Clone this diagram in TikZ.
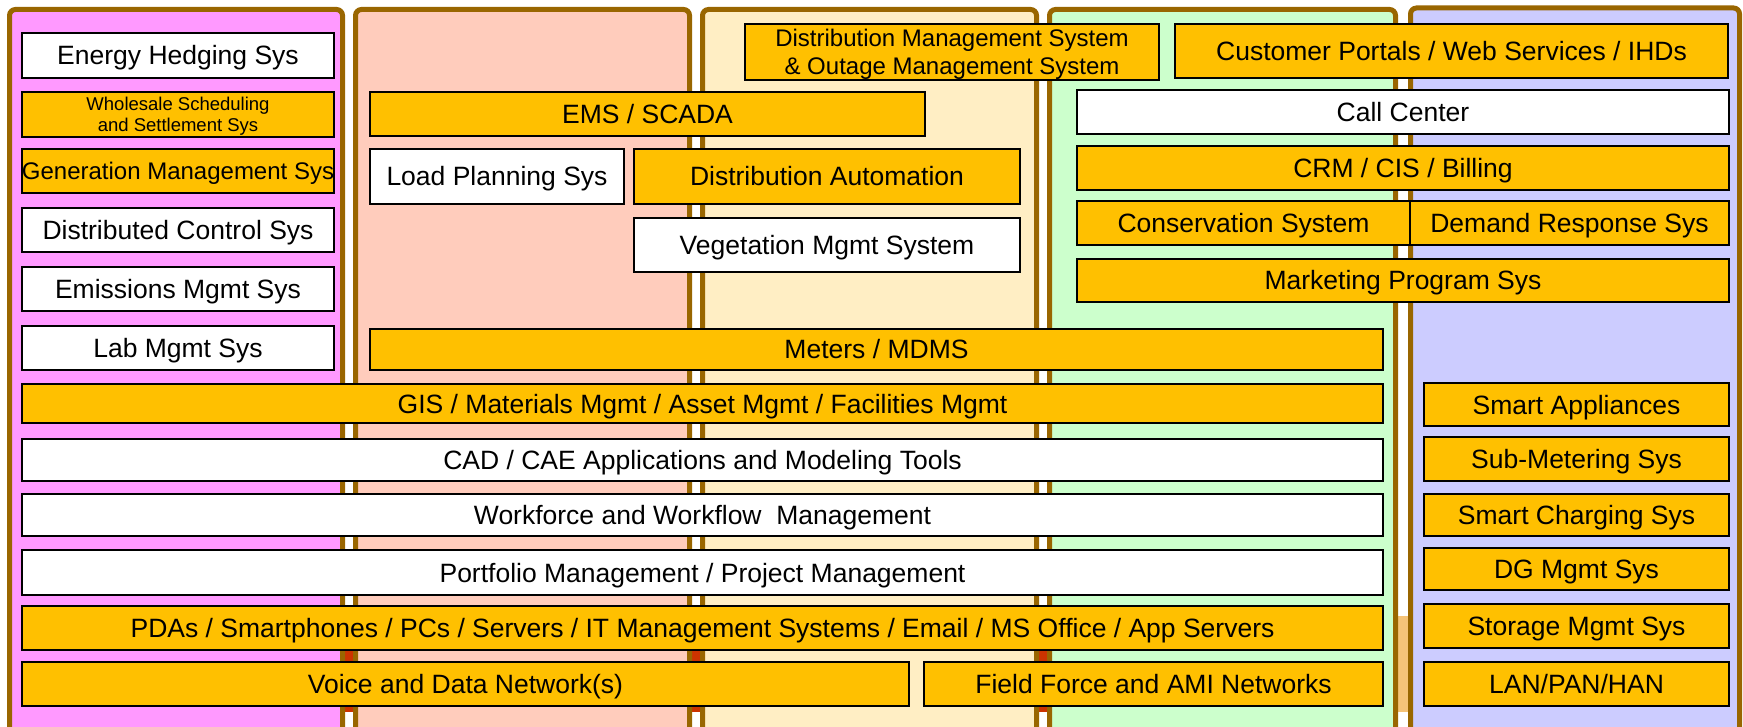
\documentclass[tikz,border=0pt]{standalone}
\usepackage{fontspec}
\setmainfont{Liberation Sans}
\definecolor{colpink}{RGB}{255,153,255}
\definecolor{colsalmon}{RGB}{255,204,188}
\definecolor{colcream}{RGB}{255,238,196}
\definecolor{colgreen}{RGB}{204,255,204}
\definecolor{colblue}{RGB}{204,204,255}
\definecolor{colborder}{RGB}{153,102,0}
\definecolor{boxorange}{RGB}{255,192,0}
\definecolor{gapred}{RGB}{204,51,0}
\definecolor{gaporange}{RGB}{245,195,120}
\tikzset{
  column/.style={draw=colborder, line width=5pt, rounded corners=6pt},
  sysbox/.style={draw=black, line width=2pt, inner sep=0pt, outer sep=0pt,
    font=\fontsize{26.5}{30}\selectfont, text height=19pt, text depth=0pt},
  orangebox/.style={sysbox, fill=boxorange},
  whitebox/.style={sysbox, fill=white},
  twoline/.style={text height=, text depth=-2pt, align=center},
}
\newcommand\putbox[7]{%
  \node[#2, minimum width={(#5-#3)*1pt}, minimum height={(#6-#4)*1pt}]
    (#1) at ({(#3+#5)/2},{(#4+#6)/2}) {#7};}
\begin{document}
\begin{tikzpicture}[x=1pt, y=-1pt]
\useasboundingbox (0,0) rectangle (1743,727);
\clip (0,0) rectangle (1743,727);
% gap strips
\fill[gapred] (344,650) rectangle (354,712);
\fill[gapred] (691,650) rectangle (701,712);
\fill[gapred] (1038,650) rectangle (1048,712);
\fill[gaporange] (1397,616) rectangle (1409,712);
% columns
\draw[column, fill=colpink]   (9.5,9.5)   rectangle (342.5,760);
\draw[column, fill=colsalmon] (355.5,9.5) rectangle (689.5,760);
\draw[column, fill=colcream]  (702.5,9.5) rectangle (1036.5,760);
\draw[column, fill=colgreen]  (1049.5,9.5) rectangle (1395.5,760);
\draw[column, fill=colblue]   (1410.5,8)  rectangle (1739.5,760);
% left column
\putbox{energy}{whitebox}{22}{33}{334}{78}{Energy Hedging Sys}
\putbox{wholesale}{orangebox,twoline,font=\fontsize{18.5}{21}\selectfont}{22}{92}{334}{137}{Wholesale Scheduling\\and Settlement Sys}
\putbox{generation}{orangebox,font=\fontsize{24}{28}\selectfont,text height=17.2pt}{22}{149}{334}{193}{Generation Management Sys}
\putbox{distctrl}{whitebox}{22}{208}{334}{252}{Distributed Control Sys}
\putbox{emissions}{whitebox}{22}{267}{334}{311}{Emissions Mgmt Sys}
\putbox{lab}{whitebox}{22}{326}{334}{370}{Lab Mgmt Sys}
% upper middle
\putbox{dms}{orangebox,twoline,font=\fontsize{24}{27.5}\selectfont}{745}{24}{1159}{80}{Distribution Management System\\\& Outage Management System}
\putbox{portals}{orangebox}{1175}{24}{1728}{78}{Customer Portals / Web Services / IHDs}
\putbox{ems}{orangebox}{370}{92}{925}{136}{EMS / SCADA}
\putbox{callcenter}{whitebox}{1077}{90}{1729}{134}{Call Center}
\putbox{loadplan}{whitebox}{370}{149}{624}{204}{Load Planning Sys}
\putbox{distauto}{orangebox}{634}{149}{1020}{204}{Distribution Automation}
\putbox{crm}{orangebox}{1077}{146}{1729}{190}{CRM / CIS / Billing}
\putbox{conservation}{orangebox}{1077}{201}{1410}{245}{Conservation System}
\putbox{demand}{orangebox}{1410}{201}{1729}{245}{Demand Response Sys}
\putbox{vegetation}{whitebox}{634}{218}{1020}{272}{Vegetation Mgmt System}
\putbox{marketing}{orangebox}{1077}{259}{1729}{302}{Marketing Program Sys}
\putbox{meters}{orangebox}{370}{329}{1383}{370}{Meters / MDMS}
% wide rows
\putbox{gis}{orangebox}{22}{384}{1383}{423}{GIS / Materials Mgmt / Asset Mgmt / Facilities Mgmt}
\putbox{cad}{whitebox}{22}{439}{1383}{481}{CAD / CAE Applications and Modeling Tools}
\putbox{workforce}{whitebox}{22}{494}{1383}{536}{Workforce and Workflow\ \ Management}
\putbox{portfolio}{whitebox}{22}{550}{1383}{595}{Portfolio Management / Project Management}
\putbox{pdas}{orangebox}{22}{606}{1383}{650}{PDAs / Smartphones / PCs / Servers / IT Management Systems / Email / MS Office / App Servers}
\putbox{voice}{orangebox}{22}{662}{909}{706}{Voice and Data Network(s)}
\putbox{fieldforce}{orangebox}{924}{662}{1383}{706}{Field Force and AMI Networks}
% right column
\putbox{appliances}{orangebox}{1424}{383}{1729}{426}{Smart Appliances}
\putbox{submeter}{orangebox}{1424}{437}{1729}{481}{Sub-Metering Sys}
\putbox{charging}{orangebox}{1424}{494}{1729}{536}{Smart Charging Sys}
\putbox{dg}{orangebox}{1424}{548}{1729}{590}{DG Mgmt Sys}
\putbox{storage}{orangebox}{1424}{604}{1729}{648}{Storage Mgmt Sys}
\putbox{lan}{orangebox}{1424}{662}{1729}{706}{LAN/PAN/HAN}
\end{tikzpicture}
\end{document}
